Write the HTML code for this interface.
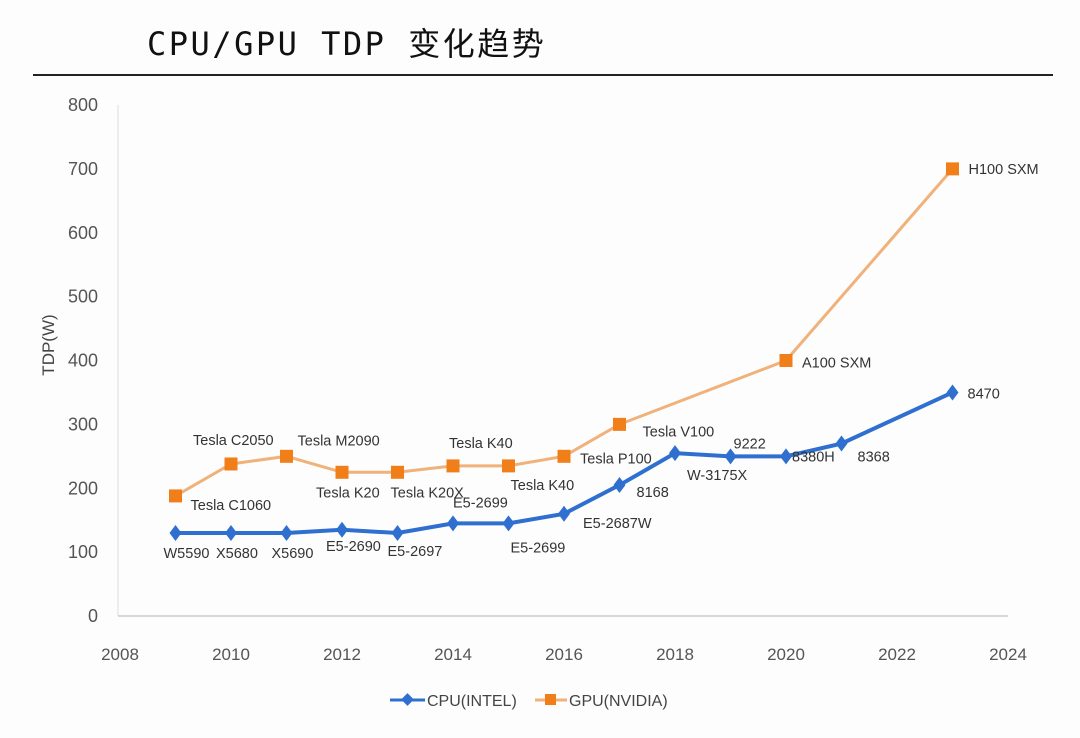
<!DOCTYPE html>
<html><head><meta charset="utf-8">
<style>
body{margin:0;background:#fff;}
svg{display:block;font-family:"Liberation Sans","Noto Sans CJK SC",sans-serif;}
</style></head>
<body>
<svg id="chart" width="1080" height="738" viewBox="0 0 1080 738">
<rect x="0" y="0" width="1080" height="738" fill="#fdfdfd"/>
<text x="147" y="55" font-size="32" letter-spacing="2.5" fill="#111" font-family="'DejaVu Sans Mono','Noto Sans CJK SC',monospace">CPU/GPU TDP 变化趋势</text>
<line x1="33" y1="75" x2="1053" y2="75" stroke="#222" stroke-width="2"/>
<line x1="118" y1="105" x2="118" y2="616" stroke="#ddd" stroke-width="1"/>
<line x1="118" y1="616" x2="1008" y2="616" stroke="#ccc" stroke-width="1.5"/>
<text transform="translate(54,345) rotate(-90)" text-anchor="middle" font-size="17" fill="#444">TDP(W)</text>
<g id="yt"></g><g id="xt"></g><g id="series"></g><g id="labels"></g>
<g>
 <g>
  <line x1="390" y1="700" x2="425" y2="700" stroke="#2f6fcf" stroke-width="3"/>
  <rect x="403" y="695" width="9" height="9" fill="#2f6fcf" transform="rotate(45 407.5 699.5)"/>
  <text x="427" y="706" font-size="16" fill="#444">CPU(INTEL)</text>
 </g>
 <g>
  <line x1="535" y1="700" x2="567" y2="700" stroke="#f0b27a" stroke-width="3"/>
  <rect x="545" y="694" width="11" height="11" fill="#f07f1a"/>
  <text x="569" y="706" font-size="16" fill="#444">GPU(NVIDIA)</text>
 </g>
</g>
</svg>
<script>
const cpuYears=[2009,2010,2011,2012,2013,2014,2015,2016,2017,2018,2019,2020,2021,2023];
const cpuValues=[130,130,130,135,130,145,145,160,205,255,250,250,270,350];
const cpuNames=["W5590","X5680","X5690","E5-2690","E5-2697","E5-2699","E5-2699","E5-2687W","8168","W-3175X","9222","8380H","8368","8470"];
const cpuLabelDx=[-12,-15,-15,-16,-10,0,2,19,17,12,3,6,16,15];
const cpuLabelDy=[25,25,25,21,23,-16,29,14,12,27,-8,5,18,6];
const gpuYears=[2009,2010,2011,2012,2013,2014,2015,2016,2017,2020,2023];
const gpuValues=[188,238,250,225,225,235,235,250,300,400,700];
const gpuNames=["Tesla C1060","Tesla C2050","Tesla M2090","Tesla K20","Tesla K20X","Tesla K40","Tesla K40","Tesla P100","Tesla V100","A100 SXM","H100 SXM"];
const gpuLabelDx=[15,-38,11,-26,-7,-4,2,16,23,16,16];
const gpuLabelDy=[14,-19,-11,25,25,-18,24,7,12,7,5];
const yTicks=[0,100,200,300,400,500,600,700,800];
const xTicks=[2008,2010,2012,2014,2016,2018,2020,2022,2024];

const NS="http://www.w3.org/2000/svg";
const X=v=>120+(v-2008)*(1008-120)/16;
const Y=v=>616-v*(616-105)/800;
function mk(tag,parent,attrs){const e=document.createElementNS(NS,tag);for(const k in attrs)e.setAttribute(k,attrs[k]);parent.appendChild(e);return e;}
const yt=document.getElementById('yt'),xt=document.getElementById('xt'),se=document.getElementById('series'),lb=document.getElementById('labels');
yTicks.forEach(t=>{const e=mk('text',yt,{x:98,y:Y(t)+6,'text-anchor':'end','font-size':18,fill:'#555'});e.textContent=t;

});
xTicks.forEach(t=>{const e=mk('text',xt,{x:X(t),y:660,'text-anchor':'middle','font-size':17,fill:'#555'});e.textContent=t;

});
const gp=mk('polyline',se,{points:gpuYears.map((y,i)=>X(y)+','+Y(gpuValues[i])).join(' '),fill:'none',stroke:'#f0b27a','stroke-width':3});


gpuYears.forEach((y,i)=>{const r=mk('rect',se,{x:X(y)-6.5,y:Y(gpuValues[i])-6.5,width:13,height:13,fill:'#f07f1a'});


const t=mk('text',lb,{x:X(y)+gpuLabelDx[i],y:Y(gpuValues[i])+gpuLabelDy[i],'font-size':14.5,fill:'#333'});t.textContent=gpuNames[i];

});
const cp=mk('polyline',se,{points:cpuYears.map((y,i)=>X(y)+','+Y(cpuValues[i])).join(' '),fill:'none',stroke:'#2f6fcf','stroke-width':4});


cpuYears.forEach((y,i)=>{const cx=X(y),cy=Y(cpuValues[i]);
const r=mk('polygon',se,{points:`${cx},${cy-8} ${cx+6},${cy} ${cx},${cy+8} ${cx-6},${cy}`,fill:'#2f6fcf'});


const t=mk('text',lb,{x:cx+cpuLabelDx[i],y:cy+cpuLabelDy[i],'font-size':14.5,fill:'#333'});t.textContent=cpuNames[i];

});
</script>
</body></html>
